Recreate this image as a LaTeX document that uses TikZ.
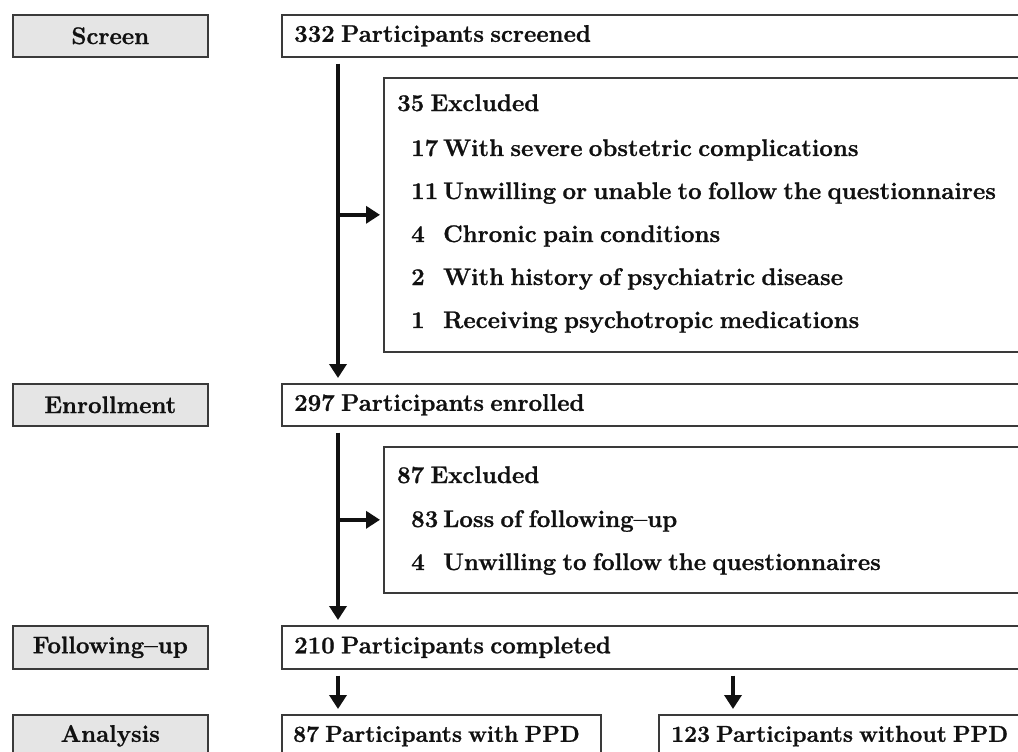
\documentclass[tikz,border=0pt]{standalone}
\usepackage{fontspec}
\setmainfont{Latin Modern Roman}[WordSpace=0.7, BoldFeatures={FakeBold=1}]
\usepackage{tikz}
\usetikzlibrary{arrows.meta,positioning}
\definecolor{ink}{HTML}{111111}
\definecolor{edge}{HTML}{3A3A3A}
\definecolor{stagefill}{HTML}{E5E5E5}

\begin{document}
\begin{tikzpicture}[x=1pt, y=-1pt, >={Triangle[length=14pt,width=17pt]},
    font=\fontsize{24}{28}\selectfont\bfseries,
    stage/.style={draw=edge, line width=1.6pt, fill=stagefill, minimum width=195pt,
      minimum height=42pt, anchor=north west, inner sep=0pt, text=ink},
    stepbox/.style={draw=edge, line width=1.6pt, fill=white, minimum width=800pt,
      minimum height=42pt, anchor=north west, inner sep=0pt},
    txt/.style={anchor=west, inner sep=0pt, text=ink, text height=17pt, text depth=5pt},
    flow/.style={->, ink, line width=4pt, shorten <=6pt, shorten >=5pt}]
    \useasboundingbox (0,0) rectangle (1018,752);
    \clip (0,0) rectangle (1018,752);
    % stages on the left
    \node[stage] (sScreen) at (12,14) {Screen};
    \node[stage] (sEnrol) at (12,383) {Enrollment};
    \node[stage, minimum height=43pt] (sFollow) at (12,625) {Following--up};
    \node[stage] (sAnal) at (12,714) {Analysis};
    % main column
    \node[stepbox] (scr) at (281,14) {};
    \node[txt, right=13pt of scr.west] {332 Participants screened};
    \node[stepbox, minimum height=274pt] (ex1) at (383,77) {};
    \node[txt] at (397,105) {35 Excluded};
    \foreach \num/\what [count=\k from 0] in {17/With severe obstetric complications,
        11/Unwilling or unable to follow the questionnaires, 4/Chronic pain conditions,
        2/With history of psychiatric disease, 1/Receiving psychotropic medications} {
      \node[txt] at (411,150+43*\k) {\num};
      \node[txt] at (443,150+43*\k) {\what};
    }
    \node[stepbox] (enr) at (281,383) {};
    \node[txt, right=13pt of enr.west] {297 Participants enrolled};
    \node[stepbox, minimum height=146pt] (ex2) at (383,446) {};
    \node[txt] at (397,477) {87 Excluded};
    \foreach \num/\what [count=\k from 0] in {83/Loss of following--up,
        4/Unwilling to follow the questionnaires} {
      \node[txt] at (411,521+43*\k) {\num};
      \node[txt] at (443,521+43*\k) {\what};
    }
    \node[stepbox, minimum height=43pt] (fol) at (281,625) {};
    \node[txt, right=13pt of fol.west] {210 Participants completed};
    \node[stepbox, minimum width=319pt] (ppd) at (281,714) {};
    \node[txt, font=\fontsize{23}{27}\selectfont\bfseries, right=12pt of ppd.west] {87 Participants with PPD};
    \node[stepbox, minimum width=500pt] (noppd) at (658,714) {};
    \node[txt, font=\fontsize{23}{27}\selectfont\bfseries, right=13pt of noppd.west] {123 Participants without PPD};
    % arrows
    \coordinate (trunk) at (338,0);
    \coordinate (side) at (733,0);
    \draw[flow] (scr.south -| trunk) -- (enr.north -| trunk);
    \draw[flow, shorten <=0pt, shorten >=3pt] (ex1.west -| trunk) -- (ex1.west);
    \draw[flow] (enr.south -| trunk) -- (fol.north -| trunk);
    \draw[flow, shorten <=0pt, shorten >=3pt] (ex2.west -| trunk) -- (ex2.west);
    \draw[flow] (fol.south -| trunk) -- (ppd.north -| trunk);
    \draw[flow] (fol.south -| side) -- (noppd.north -| side);
\end{tikzpicture}
\end{document}
